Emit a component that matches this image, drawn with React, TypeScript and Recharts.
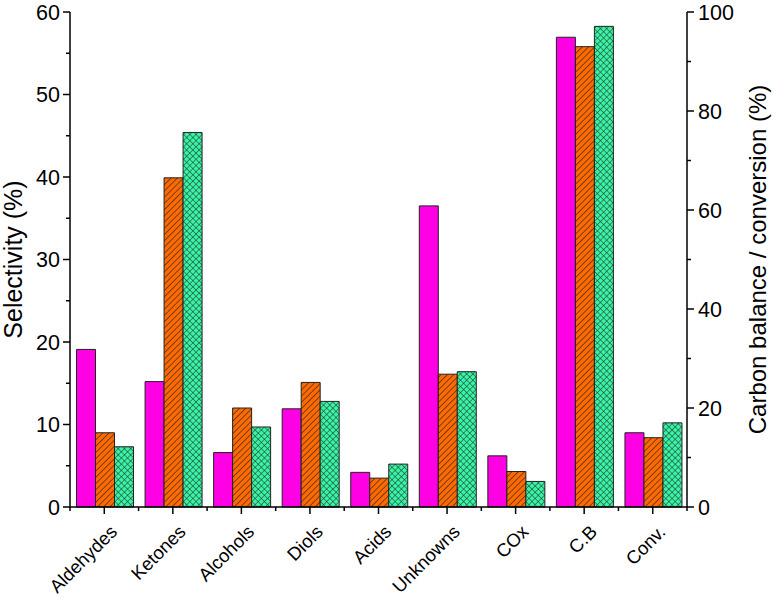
import { Bar, ComposedChart, XAxis, YAxis } from 'recharts';

const categories = ['Aldehydes', 'Ketones', 'Alcohols', 'Diols', 'Acids', 'Unknowns', 'COx', 'C.B', 'Conv.'];
// selectivity (%) on the left axis; null where the value belongs to the right axis
const selA = [19.1, 15.2, 6.6, 11.9, 4.2, 36.5, 6.2, null, null];
const selB = [9.0, 39.9, 12.0, 15.1, 3.5, 16.1, 4.3, null, null];
const selC = [7.3, 45.4, 9.7, 12.8, 5.2, 16.4, 3.1, null, null];
// carbon balance / conversion (%) on the right axis
const cbA = [null, null, null, null, null, null, null, 94.9, 15.0];
const cbB = [null, null, null, null, null, null, null, 93.0, 14.0];
const cbC = [null, null, null, null, null, null, null, 97.1, 17.0];

const leftTicks = [0, 5, 10, 15, 20, 25, 30, 35, 40, 45, 50, 55, 60];
const rightTicks = [0, 10, 20, 30, 40, 50, 60, 70, 80, 90, 100];

const data = categories.map((name, i) => ({
  name,
  a: selA[i],
  b: selB[i],
  c: selC[i],
  ra: cbA[i],
  rb: cbB[i],
  rc: cbC[i],
}));

const FONT = 'Liberation Sans, Arial, sans-serif';
const MAGENTA = '#ff00e4';

function LeftTick(props: any) {
  const { x, y, payload } = props;
  const major = payload.value % 10 === 0;
  return (
    <g>
      <line x1={x} x2={x - (major ? 7 : 4)} y1={y} y2={y} stroke="#000" strokeWidth={1.5} />
      {major && (
        <text x={x - 10} y={y} dy={7.5} textAnchor="end" fontSize={21.5} fontFamily={FONT} fill="#000">
          {payload.value}
        </text>
      )}
    </g>
  );
}

function RightTick(props: any) {
  const { x, y, payload } = props;
  const major = payload.value % 20 === 0;
  return (
    <g>
      <line x1={x} x2={x + (major ? 7 : 4)} y1={y} y2={y} stroke="#000" strokeWidth={1.5} />
      {major && (
        <text x={x + 11} y={y} dy={7.5} textAnchor="start" fontSize={21.5} fontFamily={FONT} fill="#000">
          {payload.value}
        </text>
      )}
    </g>
  );
}

function BottomTick(props: any) {
  const { x, y, payload, index, visibleTicksCount } = props;
  const half = payload.offset || 34.3;
  const last = index === visibleTicksCount - 1;
  const ex = x + 14;
  const ey = y + 26;
  return (
    <g>
      <line x1={x} x2={x} y1={y} y2={y + 7} stroke="#000" strokeWidth={1.5} />
      <line x1={x - half} x2={x - half} y1={y} y2={y + 4} stroke="#000" strokeWidth={1.5} />
      {last && <line x1={x + half} x2={x + half} y1={y} y2={y + 4} stroke="#000" strokeWidth={1.5} />}
      <text x={ex} y={ey} textAnchor="end" fontSize={18.5} fontFamily={FONT} fill="#000" transform={`rotate(-45, ${ex}, ${ey})`}>
        {payload.value}
      </text>
    </g>
  );
}

export default function App() {
  return (
    <div style={{ position: 'absolute', left: 0, top: 0, width: 773, height: 598, background: '#fff' }}>
      <ComposedChart
        width={773}
        height={598}
        data={data}
        margin={{ top: 12, right: 0, left: 0, bottom: 0 }}
        barCategoryGap="9.5%"
        barGap={0}
      >
        <defs>
          <pattern id="hatch" width="4.4" height="4.4" patternUnits="userSpaceOnUse" patternTransform="rotate(45)">
            <rect width="4.4" height="4.4" fill="#ff6a00" />
            <line x1="0" y1="0" x2="0" y2="4.4" stroke="#222" strokeWidth="1.2" />
          </pattern>
          <pattern id="cross" width="4.4" height="4.4" patternUnits="userSpaceOnUse" patternTransform="rotate(45)">
            <rect width="4.4" height="4.4" fill="#38f5a6" />
            <line x1="0" y1="0" x2="0" y2="4.4" stroke="#222" strokeWidth="1" />
            <line x1="0" y1="0" x2="4.4" y2="0" stroke="#222" strokeWidth="1" />
          </pattern>
        </defs>
        <XAxis
          xAxisId="main"
          dataKey="name"
          height={91}
          interval={0}
          tickSize={0}
          tickMargin={0}
          tickLine={false}
          tick={<BottomTick />}
          axisLine={{ stroke: '#000', strokeWidth: 1.5 }}
        />
        <XAxis xAxisId="cb" dataKey="name" orientation="top" height={0} hide />
        <YAxis
          yAxisId="left"
          orientation="left"
          width={70}
          domain={[0, 60]}
          ticks={leftTicks}
          interval={0}
          tickSize={0}
          tickMargin={0}
          tickLine={false}
          tick={<LeftTick />}
          axisLine={{ stroke: '#000', strokeWidth: 1.5 }}
          label={{
            value: 'Selectivity (%)',
            angle: -90,
            position: 'insideLeft',
            offset: 13,
            style: { fontSize: 25, fontFamily: FONT, fill: '#000', textAnchor: 'middle' },
          }}
        />
        <YAxis
          yAxisId="right"
          orientation="right"
          width={86}
          domain={[0, 100]}
          ticks={rightTicks}
          interval={0}
          tickSize={0}
          tickMargin={0}
          tickLine={false}
          tick={<RightTick />}
          axisLine={{ stroke: '#000', strokeWidth: 1.5 }}
          label={{
            value: 'Carbon balance / conversion (%)',
            angle: -90,
            position: 'insideRight',
            offset: 16,
            style: { fontSize: 24, fontFamily: FONT, fill: '#000', textAnchor: 'middle' },
          }}
        />
        <Bar xAxisId="main" yAxisId="left" dataKey="a" fill={MAGENTA} stroke="#222" strokeWidth={1} isAnimationActive={false} />
        <Bar xAxisId="main" yAxisId="left" dataKey="b" fill="url(#hatch)" stroke="#222" strokeWidth={1} isAnimationActive={false} />
        <Bar xAxisId="main" yAxisId="left" dataKey="c" fill="url(#cross)" stroke="#222" strokeWidth={1} isAnimationActive={false} />
        <Bar xAxisId="cb" yAxisId="right" dataKey="ra" fill={MAGENTA} stroke="#222" strokeWidth={1} isAnimationActive={false} />
        <Bar xAxisId="cb" yAxisId="right" dataKey="rb" fill="url(#hatch)" stroke="#222" strokeWidth={1} isAnimationActive={false} />
        <Bar xAxisId="cb" yAxisId="right" dataKey="rc" fill="url(#cross)" stroke="#222" strokeWidth={1} isAnimationActive={false} />
      </ComposedChart>
    </div>
  );
}
